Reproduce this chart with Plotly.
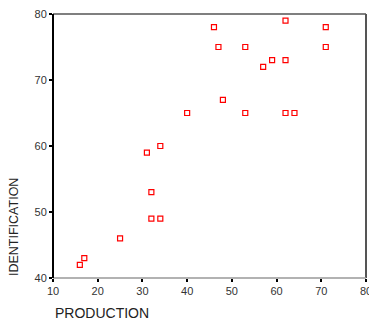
import plotly.graph_objects as go

production = [16, 17, 25, 32, 32, 34, 31, 34, 40, 46, 47, 53, 62, 71, 71, 59, 62, 57, 48, 53, 62, 64]
identification = [42, 43, 46, 53, 49, 49, 59, 60, 65, 78, 75, 75, 79, 78, 75, 73, 73, 72, 67, 65, 65, 65]

x_ticks = [10, 20, 30, 40, 50, 60, 70, 80]
y_ticks = [40, 50, 60, 70, 80]

W, H = 369, 321
ML, MR, MT, MB = 53, 3, 14, 43
pw = W - ML - MR
ph = H - MT - MB

fig = go.Figure()
fig.add_trace(go.Scatter(
    x=production, y=identification, mode="markers",
    marker=dict(symbol="square-open", size=5, color="#ff0000", line=dict(width=1.2, color="#ff0000")),
    showlegend=False, cliponaxis=False,
))

font = dict(family="Liberation Sans, Arial, sans-serif", size=11, color="#333333")
fig.update_layout(
    width=W, height=H,
    margin=dict(l=ML, r=MR, t=MT, b=MB, pad=0, autoexpand=False),
    paper_bgcolor="white", plot_bgcolor="white",
    font=font,
    xaxis=dict(range=[10, 80], tickvals=x_ticks, ticks="outside", ticklen=3, tickwidth=2,
               tickcolor="black", showgrid=False, zeroline=False, showline=False,
               tickfont=font, fixedrange=True, ticklabeloverflow="allow", automargin=False),
    yaxis=dict(range=[40, 80], tickvals=y_ticks, ticks="outside", ticklen=3, tickwidth=2,
               tickcolor="black", showgrid=False, zeroline=False, showline=False,
               tickfont=font, fixedrange=True, ticklabeloverflow="allow", automargin=False),
    shapes=[
        dict(type="line", xref="paper", yref="paper", x0=0, x1=1, y0=1, y1=1, line=dict(color="#555555", width=1.5)),
        dict(type="line", xref="paper", yref="paper", x0=1, x1=1, y0=0, y1=1, line=dict(color="#555555", width=2)),
        dict(type="line", xref="paper", yref="paper", x0=0, x1=1, y0=0, y1=0, line=dict(color="#999999", width=1.5)),
        dict(type="line", xref="paper", yref="paper", x0=0, x1=0, y0=0, y1=1, line=dict(color="#000000", width=2)),
    ],
    annotations=[
        dict(text="PRODUCTION", xref="paper", yref="paper", x=0, y=-(312.5 - 278) / ph,
             xanchor="left", yanchor="middle", showarrow=False,
             font=dict(family="Liberation Sans, Arial, sans-serif", size=14, color="#222222")),
        dict(text="IDENTIFICATION", xref="paper", yref="paper", x=(14 - 53) / pw, y=0,
             xanchor="center", yanchor="bottom", textangle=-90, showarrow=False,
             font=dict(family="Liberation Sans, Arial, sans-serif", size=12.5, color="#222222")),
    ],
)

fig.write_html("out.html", config={"displayModeBar": False},
               post_script="document.body.style.margin='0';document.body.style.overflow='hidden';")
